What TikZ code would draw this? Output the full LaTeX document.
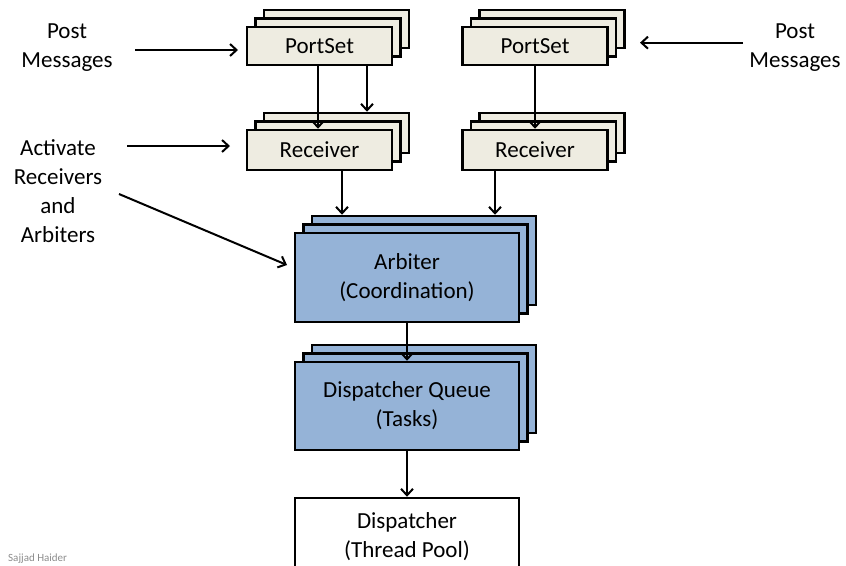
\documentclass[tikz,border=0pt]{standalone}
\usepackage{fontspec}
\setmainfont{Carlito}
\usetikzlibrary{arrows.meta,shadows,calc}
\definecolor{beige}{HTML}{EEECE1}
\definecolor{paleblue}{HTML}{95B3D7}
\definecolor{footgray}{HTML}{8C8C8C}
\begin{document}
\begin{tikzpicture}[x=1pt,y=-1pt,
  box/.style={draw=black, line width=2.5pt, inner sep=0pt, align=center,
    font=\fontsize{23}{29}\selectfont},
  stackof/.style={box, fill=#1,
    copy shadow={shadow xshift=17pt, shadow yshift=17pt, fill=#1, draw=black, line width=2.5pt},
    copy shadow={shadow xshift=8.5pt, shadow yshift=8.5pt, fill=#1, draw=black, line width=2.5pt}},
  arr/.style={line width=2pt, -{Straight Barb[length=6.5pt,width=12pt,line width=2pt]}},
  lbl/.style={align=center, inner sep=0pt, font=\fontsize{23}{29}\selectfont}]
\useasboundingbox (0,0) rectangle (846,565);

% stacks
\node[stackof=beige, minimum width=145pt, minimum height=38pt] (ps1) at (319.5,46) {PortSet};
\node[stackof=beige, minimum width=145pt, minimum height=38pt] (ps2) at (535,46) {PortSet};
\node[stackof=beige, minimum width=145pt, minimum height=40pt] (r1) at (319.5,150) {Receiver};
\node[stackof=beige, minimum width=145pt, minimum height=40pt] (r2) at (535,150) {Receiver};
\node[stackof=paleblue, minimum width=224pt, minimum height=89pt] (arb) at (407,277.5) {Arbiter\\(Coordination)};
\node[stackof=paleblue, minimum width=224pt, minimum height=88pt] (dq) at (407,406) {Dispatcher Queue\\(Tasks)};
\node[box, fill=white, minimum width=224pt, minimum height=78pt] (disp) at (407,537) {Dispatcher\\(Thread Pool)};

% labels
\node[lbl] (pm1) at (67,47.5) {Post\\Messages};
\node[lbl] (pm2) at (795,47.5) {Post\\Messages};
\node[lbl] (act) at (58,191.5) {Activate\\Receivers\\and\\Arbiters};
\node[anchor=base west, inner sep=0pt, text=footgray, font=\fontsize{11}{12}\selectfont] (foot) at (8,561) {Sajjad Haider};

% connector end points
\coordinate (pmA) at (135,50);
\coordinate (pmB) at (238,50);
\coordinate (pm2A) at (743,42.7);
\coordinate (pm2B) at (640,42.7);
\coordinate (acA) at (127,146);
\coordinate (acB) at (230,146);
\coordinate (acC) at (119,194);
\coordinate (acD) at (287,265);
\coordinate (r1a) at ($(r1.north)+(-1.5,0)$);
\coordinate (r1b) at ($(r1.north)+(47.5,-17)$);
\coordinate (a1) at ($(arb.north)+(-65,-17)$);
\coordinate (a2) at ($(arb.north)+(88,-17)$);

% connectors
\draw[arr] (ps1.south -| r1a) -- (r1a);
\draw[arr] (ps1.south -| r1b) -- (r1b);
\draw[arr] (ps2.south) -- (r2.north);
\draw[arr] (pmA) -- (pmB);
\draw[arr] (pm2A) -- (pm2B);
\draw[arr] (acA) -- (acB);
\draw[arr] (acC) -- (acD);
\draw[arr] (r1.south -| a1) -- (a1);
\draw[arr] (r2.south -| a2) -- (a2);
\draw[arr] (arb.south) -- (dq.north);
\draw[arr] (dq.south) -- (disp.north);
\end{tikzpicture}
\end{document}
